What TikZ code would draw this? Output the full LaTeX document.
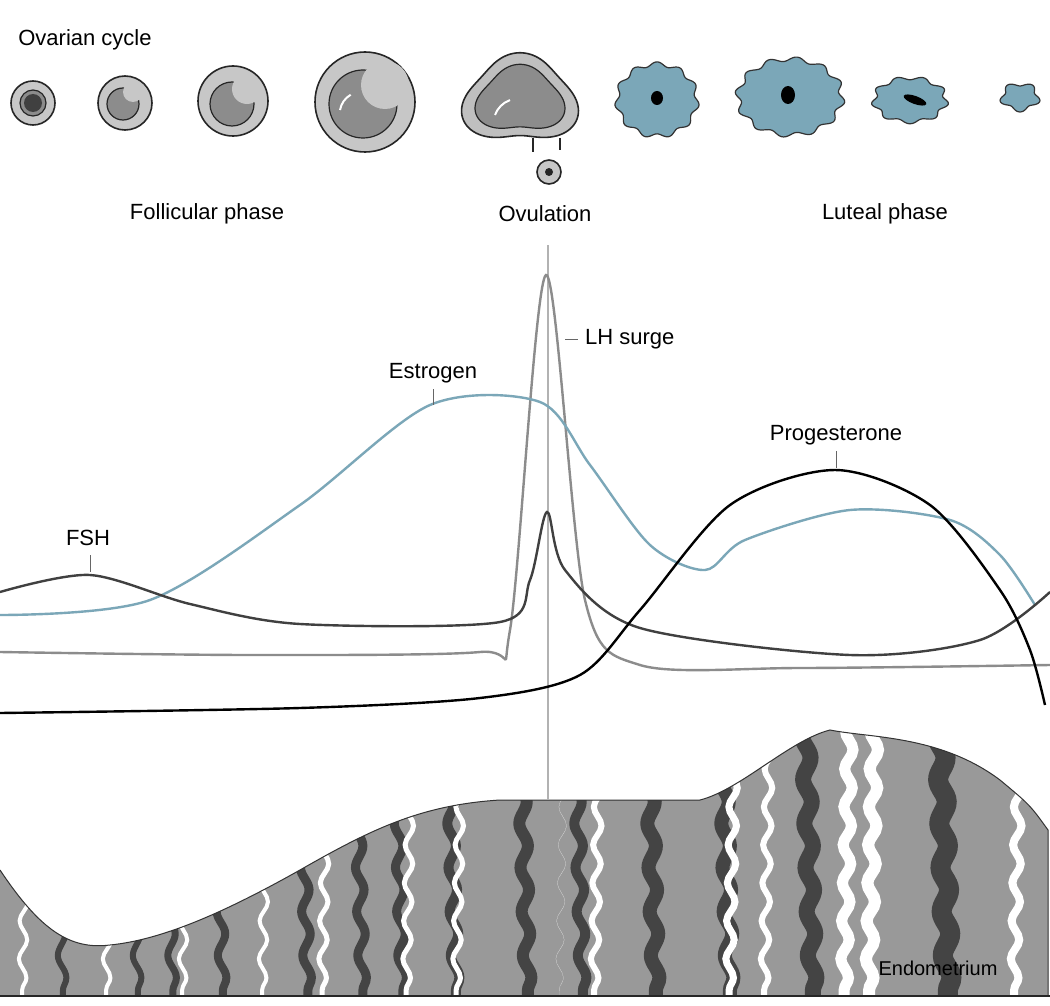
\documentclass[tikz,border=0pt]{standalone}
\usepackage{fontspec}
\setmainfont{Liberation Sans}
\usetikzlibrary{decorations.pathmorphing}
\definecolor{lblue}{HTML}{7BA7B8}
\definecolor{endo}{HTML}{999999}
\definecolor{dstripe}{HTML}{444444}
\tikzset{
 lbl/.style={font=\fontsize{22}{26}\selectfont,inner sep=0pt},
 foll/.style={draw=black!85,line width=1.6pt,fill=black!22},
 finner/.style={draw=black!85,line width=1.2pt,fill=black!45},
 luteal/.style={draw=black!80,line width=1.2pt,fill=lblue},
 hcurve/.style={line width=2.4pt},
 tick/.style={line width=1pt,black!60},
 wstripe/.style={white,decorate,decoration={snake,amplitude=4pt,segment length=38pt}},
 dstr/.style={dstripe,decorate,decoration={snake,amplitude=4pt,segment length=44pt}}
}
\begin{document}
\begin{tikzpicture}[x=1pt,y=-1pt]
\useasboundingbox[fill=white] (0,0) rectangle (1050,1006);
% title fragment
\node[lbl] (ovc) at (85,40) {Ovarian cycle};
% follicles
\draw[foll] (33,103) circle (22); \draw[finner] (33,103) circle (13); \fill[black!75] (33,103) circle (9);
\draw[foll] (125,103) circle (27); \draw[finner] (123,104) circle (16);
\fill[black!22] (133,92) circle (10);
\draw[foll] (233,101) circle (35); \draw[finner] (232,104) circle (22);
\fill[black!22] (247,89) circle (15);
\draw[foll] (365,102) circle (50); \draw[finner] (363,104) circle (34);
\fill[black!22] (385,85) circle (24);
\draw[white,line width=2pt] (340,110) arc (190:240:22);
% ovulating follicle
\draw[foll,fill=black!25] plot[domain=0:360,samples=120,smooth cycle] ({520+52*(1+0.13*sin(3*\x)+0.08*cos(2*\x))*cos(\x)},{100+45*(1+0.13*sin(3*\x)+0.08*cos(2*\x))*sin(\x)});
\draw[finner] plot[domain=0:360,samples=120,smooth cycle] ({520+40*(1+0.13*sin(3*\x)+0.08*cos(2*\x))*cos(\x)},{100+34*(1+0.13*sin(3*\x)+0.08*cos(2*\x))*sin(\x)});
\draw[foll,fill=black!25] (533,138) -- (533,152) (560,138)--(560,150);
\draw[white,line width=2pt] (495,115) arc (200:250:25);
\draw[foll] (549,172) circle (12); \fill[black!85] (549,172) circle (4);
% corpus luteum
\draw[luteal] plot[domain=0:360,samples=150,smooth cycle] ({657+40*(1+0.06*sin(11*\x))*cos(\x)},{100+36*(1+0.06*sin(11*\x))*sin(\x)});
\fill (657,98) ellipse (6 and 7);
\draw[luteal] plot[domain=0:360,samples=150,smooth cycle] ({790+52*(1+0.06*sin(12*\x))*cos(\x)},{97+38*(1+0.06*sin(12*\x))*sin(\x)});
\fill (788,95) ellipse (7 and 9);
\draw[luteal] plot[domain=0:360,samples=150,smooth cycle] ({910+36*(1+0.08*sin(9*\x))*cos(\x)},{100+22*(1+0.08*sin(9*\x))*sin(\x)});
\fill[rotate around={-20:(915,100)}] (915,100) ellipse (12 and 4);
\draw[luteal] plot[domain=0:360,samples=100,smooth cycle] ({1020+18*(1+0.15*sin(5*\x))*cos(\x)},{97+13*(1+0.15*sin(5*\x))*sin(\x)});
% phase labels
\node[lbl] (fp) at (207,214) {Follicular phase};
\node[lbl] (ov) at (545,214) {Ovulation};
\node[lbl] (lp) at (885,214) {Luteal phase};
% endometrium
\path (0,870) coordinate (e0);
\begin{scope}
\clip (0,870) .. controls (40,930) and (70,950) .. (110,945) .. controls (160,940) and (220,915) .. (300,870)
 .. controls (370,830) and (420,805) .. (500,800) -- (700,800) .. controls (740,790) and (790,740) .. (830,730)
 .. controls (870,738) and (940,735) .. (1000,780) .. controls (1030,805) .. (1048,830) -- (1048,995) -- (0,995) -- cycle;
\fill[endo] (0,700) rectangle (1050,1000);
\foreach \x/\w in {55/6,130/6,165/7,215/8,300/9,355/9,395/9,448/10,520/12,575/10,648/14,722/14,805/16,940/20}
 \draw[dstr,line width=\w pt] (\x,700) -- (\x+8,1000);
\foreach \x/\w in {28/4,112/4,188/4,268/4,328/5,412/5,462/5,600/6,565/0.1,735/7,770/6,850/11,875/12,1020/8}
 \draw[wstripe,line width=\w pt] (\x,700) -- (\x-6,1000);
\end{scope}
\draw[black!80,line width=1pt] (0,870) .. controls (40,930) and (70,950) .. (110,945) .. controls (160,940) and (220,915) .. (300,870)
 .. controls (370,830) and (420,805) .. (500,800) -- (700,800) .. controls (740,790) and (790,740) .. (830,730)
 .. controls (870,738) and (940,735) .. (1000,780) .. controls (1030,805) .. (1048,830) -- (1048,995);
\draw[black!85,line width=2pt] (0,996) -- (1050,996);
\node[lbl,font=\fontsize{20}{24}\selectfont] (endl) at (938,968) {Endometrium};
% vertical line
\draw[black!30,line width=2pt] (548,245) -- (548,800);
% hormone curves
\draw[hcurve,black!45] plot[smooth,tension=0.5] coordinates {(0,652) (250,655) (480,652) (510,630) (546,275) (585,600) (640,665) (800,668) (1050,665)};
\draw[hcurve,lblue] plot[smooth] coordinates {(0,615) (150,600) (300,505) (430,405) (540,402) (590,465) (650,545) (705,570) (745,540) (850,510) (950,520) (1000,555) (1035,605)};
\draw[hcurve,black!75] plot[smooth,tension=0.5] coordinates {(0,592) (90,575) (190,604) (300,624) (500,622) (530,580) (547,512) (565,570) (640,628) (850,655) (980,640) (1050,592)};
\draw[hcurve,black] plot[smooth] coordinates {(0,713) (300,708) (480,698) (580,675) (640,610) (730,505) (835,470) (930,505) (1000,590) (1030,650) (1045,705)};
% labels & ticks
\node[lbl] (fsh) at (88,538) {FSH};
\draw[tick] (90,555) -- (90,572);
\node[lbl] (est) at (433,373) {Estrogen};
\draw[tick] (433,389) -- (433,405);
\node[lbl,anchor=west] (lh) at (585,339) {LH surge};
\draw[tick] (565,339) -- (578,339);
\node[lbl] (prog) at (836,435) {Progesterone};
\draw[tick] (836,451) -- (836,468);
\end{tikzpicture}
\end{document}
